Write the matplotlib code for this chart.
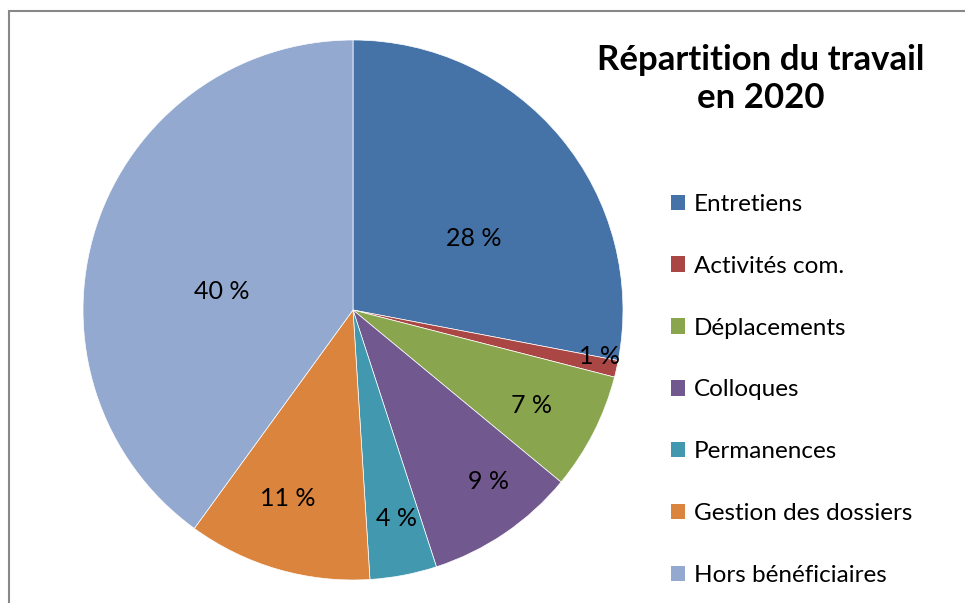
import matplotlib.pyplot as plt
import numpy as np
from matplotlib.patches import Rectangle, Patch

# --- data ---
categories = ["Entretiens", "Activités com.", "Déplacements", "Colloques",
              "Permanences", "Gestion des dossiers", "Hors bénéficiaires"]
shares = [28, 1, 7, 9, 4, 11, 40]
title = "Répartition du travail\nen 2020"

# --- style ---
colors = ["#4572A7", "#AA4643", "#89A54E", "#71588F",
          "#4198AF", "#DB843D", "#93A9CF"]
label_dist = [0.52, 0.93, 0.75, 0.81, 0.79, 0.74, 0.49]
label_shift = [-9, 2, -1, 4, 1, -3, 10]   # degrees, to mimic Excel label layout

plt.rcParams['font.family'] = ['Lato', 'DejaVu Sans']

fig = plt.figure(figsize=(9.65, 6.03), dpi=100)
ax = fig.add_axes([83 / 965, 23 / 603, 540 / 965, 540 / 603])

wedges, _, autotexts = ax.pie(shares, colors=colors, startangle=90, counterclock=False,
                              autopct=lambda p: f"{p:.0f} %", radius=1,
                              wedgeprops=dict(linewidth=0.5, edgecolor="white"),
                              textprops=dict(fontsize=18, color="black"))
for w, t, d, s in zip(wedges, autotexts, label_dist, label_shift):
    ang = np.deg2rad((w.theta1 + w.theta2) / 2 + s)
    t.set_position((d * np.cos(ang), d * np.sin(ang)))
    t.set_ha("center")
    t.set_va("center")
ax.set_xlim(-1, 1)
ax.set_ylim(-1, 1)
ax.set_aspect("equal")
ax.axis("off")

fig.text(761 / 965, 1 - 79 / 603, title, ha="center", va="center",
         fontsize=25, fontweight="bold", linespacing=1.24)

handles = [Patch(facecolor=c, edgecolor="none") for c in colors]
fig.legend(handles, categories, loc="upper left", bbox_to_anchor=(649 / 965, 1 - 172 / 603),
           frameon=False, fontsize=17.5, handlelength=0.6, handleheight=0.6,
           handletextpad=0.35, labelspacing=1.68)

# chart border (cropped on right and bottom)
fig.patches.append(Rectangle((8.5 / 965, -0.1), 1.2, 1 - 10.5 / 603 + 0.1,
                             transform=fig.transFigure, fill=False,
                             edgecolor="#888888", linewidth=1.5))

fig.savefig("out.png", dpi=100)
